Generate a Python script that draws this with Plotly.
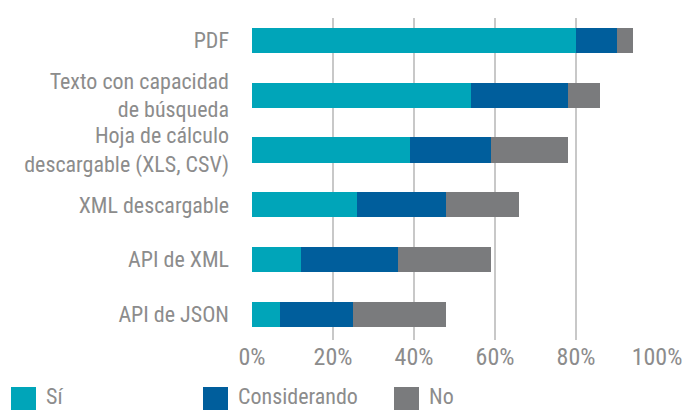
import plotly.graph_objects as go

# Survey: formats in which data is published (share of respondents)
categories = [
    "PDF",
    "Texto con capacidad<br>de búsqueda",
    "Hoja de cálculo<br>descargable (XLS, CSV)",
    "XML descargable",
    "API de XML",
    "API de JSON",
]
si = [80, 54, 39, 26, 12, 7]
considerando = [10, 24, 20, 22, 24, 18]
no = [4, 8, 19, 18, 23, 23]

series_names = ["Sí", "Considerando", "No"]
series_colors = ["#00A5B9", "#005E9C", "#7A7B7D"]
x_ticks = [0, 20, 40, 60, 80, 100]
x_ticklabels = ["0%", "20%", "40%", "60%", "80%", "100%"]

W, H = 685, 410
M_L, M_R, M_T, M_B = 252, 28, 18, 70
FONT = "Liberation Sans Narrow, Roboto Condensed, DejaVu Sans Condensed, Roboto, sans-serif"
TEXT_COLOR = "#8C8C8C"

fig = go.Figure()
for name, vals, color in zip(series_names, [si, considerando, no], series_colors):
    fig.add_trace(go.Bar(
        y=list(range(len(categories))),
        x=vals,
        name=name,
        orientation="h",
        marker=dict(color=color, line=dict(width=0)),
        width=0.46,
        showlegend=False,
    ))

# Legend drawn as large colour swatches below the axis
pw = W - M_L - M_R
ph = H - M_T - M_B


def px_x(p):
    return (p - M_L) / pw


def px_y(p):
    return 1 - (p - M_T) / ph


legend_items = [(11, "Sí"), (203, "Considerando"), (394, "No")]
for (x0, label), color in zip(legend_items, series_colors):
    fig.add_shape(
        type="rect", xref="paper", yref="paper",
        x0=px_x(x0), x1=px_x(x0 + 25), y0=px_y(387), y1=px_y(415),
        fillcolor=color, line=dict(width=0), layer="above",
    )
    fig.add_annotation(
        xref="paper", yref="paper", x=px_x(x0 + 33), y=px_y(396),
        text=label, showarrow=False, xanchor="left", yanchor="middle",
        font=dict(family=FONT, size=22, color=TEXT_COLOR),
    )

fig.update_layout(
    width=W, height=H,
    margin=dict(l=M_L, r=M_R, t=M_T, b=M_B, pad=0, autoexpand=False),
    barmode="stack",
    plot_bgcolor="white", paper_bgcolor="white",
    font=dict(family=FONT, color=TEXT_COLOR),
    xaxis=dict(
        range=[0, 100], tickvals=x_ticks, ticktext=x_ticklabels,
        showgrid=True, gridcolor="#C8C8C8", gridwidth=2,
        zeroline=False, showline=False, ticks="",
        tickfont=dict(family=FONT, size=24, color=TEXT_COLOR),
        automargin=False, fixedrange=True,
    ),
    yaxis=dict(
        range=[5.465, -0.407],
        tickvals=list(range(len(categories))), ticktext=categories,
        showgrid=False, zeroline=False, showline=False, ticks="",
        ticklabelstandoff=22,
        tickfont=dict(family=FONT, size=22, color=TEXT_COLOR),
        automargin=False, fixedrange=True,
    ),
)

fig.write_html("out.html")
